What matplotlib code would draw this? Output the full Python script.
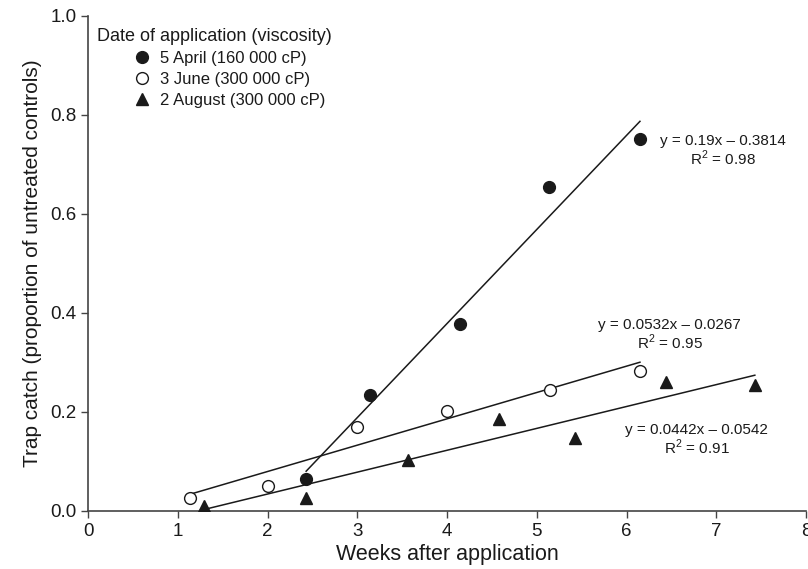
import numpy as np
import matplotlib
matplotlib.use("Agg")
import matplotlib.pyplot as plt
from matplotlib.lines import Line2D

plt.rcParams['font.family'] = ['Liberation Sans', 'DejaVu Sans']
plt.rcParams['mathtext.fontset'] = 'custom'
plt.rcParams['mathtext.rm'] = 'Liberation Sans'

# data
april_x = [2.43, 3.14, 4.15, 5.14, 6.15]
april_y = [0.064, 0.234, 0.378, 0.655, 0.751]
june_x = [1.14, 2.0, 3.0, 4.0, 5.15, 6.15]
june_y = [0.027, 0.051, 0.170, 0.202, 0.244, 0.283]
aug_x = [1.29, 2.43, 3.57, 4.58, 5.43, 6.44, 7.43]
aug_y = [0.010, 0.026, 0.103, 0.185, 0.147, 0.261, 0.254]

# fitted lines (slope, intercept)
fits = {
    'april': (0.19, -0.3814),
    'june': (0.0532, -0.0267),
    'aug': (0.0442, -0.0542),
}

labels = ['5 April (160 000 cP)', '3 June (300 000 cP)', '2 August (300 000 cP)']

ink = '#1a1a1a'

fig = plt.figure(figsize=(8.08, 5.69), dpi=100)
ax = fig.add_axes([0.109, 0.102, 0.8885, 0.870])

ax.plot(april_x, april_y, 'o', color=ink, markersize=8.5, zorder=3)
ax.plot(june_x, june_y, 'o', markerfacecolor='white', markeredgecolor=ink,
        markeredgewidth=1.0, markersize=8.5, zorder=3)
ax.plot(aug_x, aug_y, '^', color=ink, markersize=9, zorder=3)

for key, xs in (('april', april_x), ('june', june_x), ('aug', aug_x)):
    m, b = fits[key]
    xl = np.array([min(xs), max(xs)])
    ax.plot(xl, m * xl + b, color=ink, lw=1.1, zorder=2)

# equations
eq_fs = 11
ax.text(7.07, 0.748, 'y = 0.19x – 0.3814', ha='center', va='center', fontsize=eq_fs, color=ink)
ax.text(7.07, 0.712, 'R$^2$ = 0.98', ha='center', va='center', fontsize=eq_fs, color=ink)
ax.text(6.48, 0.376, 'y = 0.0532x – 0.0267', ha='center', va='center', fontsize=eq_fs, color=ink)
ax.text(6.48, 0.340, 'R$^2$ = 0.95', ha='center', va='center', fontsize=eq_fs, color=ink)
ax.text(6.78, 0.164, 'y = 0.0442x – 0.0542', ha='center', va='center', fontsize=eq_fs, color=ink)
ax.text(6.78, 0.128, 'R$^2$ = 0.91', ha='center', va='center', fontsize=eq_fs, color=ink)

# legend
ax.text(0.013, 0.959, 'Date of application (viscosity)', transform=ax.transAxes,
        ha='left', va='center', fontsize=13, color=ink)
handles = [
    Line2D([], [], ls='none', marker='o', color=ink, markersize=8.5),
    Line2D([], [], ls='none', marker='o', markerfacecolor='white',
           markeredgecolor=ink, markersize=8.5),
    Line2D([], [], ls='none', marker='^', color=ink, markersize=9),
]
ax.legend(handles, labels, loc='upper left', bbox_to_anchor=(0.052, 0.946),
          frameon=False, fontsize=12, handlelength=1.0, handletextpad=0.6,
          labelspacing=0.36, borderpad=0.0, labelcolor=ink)

ax.set_xlim(0, 8)
ax.set_ylim(0, 1.0)
ax.set_xticks(range(0, 9))
ax.set_yticks(np.arange(0, 1.01, 0.2))
ax.set_yticklabels([f'{v:.1f}' for v in np.arange(0, 1.01, 0.2)])
ax.spines['top'].set_visible(False)
ax.spines['right'].set_visible(False)
for s in ('left', 'bottom'):
    ax.spines[s].set_color('#444444')
    ax.spines[s].set_linewidth(1.2)
ax.tick_params(direction='out', length=5, width=1.0, color='#444444',
               labelsize=13.5, labelcolor=ink)
ax.set_xlabel('Weeks after application', fontsize=15.5, color=ink, labelpad=3)
ax.set_ylabel('Trap catch (proportion of untreated controls)', fontsize=15, color=ink, labelpad=6)

fig.savefig('out.png', dpi=100)
